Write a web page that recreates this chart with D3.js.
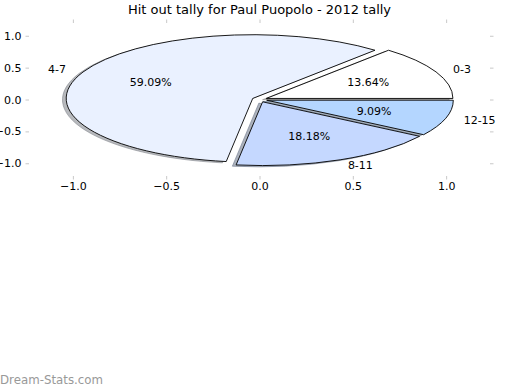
<!doctype html>
<html>
<head>
<meta charset="UTF-8" />
<title>Hit out tally</title>
<script src="https://d3js.org/d3.v7.min.js"></script>
<style>
  body { margin: 0; background: #fff; }
  text { font-family: "DejaVu Sans", sans-serif; }
</style>
</head>
<body>
<div id="container"></div>
<script>
// data
const labels = ["0-3", "4-7", "8-11", "12-15"];
const counts = [3, 13, 4, 2];
const colors = ["#ffffff", "#eaf1ff", "#c5d8ff", "#b4d6ff"];
const explode = [0.04, 0.04, 0.04, 0.04];
const ticks = [-1.0, -0.5, 0.0, 0.5, 1.0];
const title = "Hit out tally for Paul Puopolo - 2012 tally";

const width = 520, height = 390;

const svg = d3.select("#container").append("svg")
    .attr("width", width)
    .attr("height", height);

// axes box (pie is squashed, aspect not equal)
const x = d3.scaleLinear().domain([-1.235, 1.235]).range([29, 490]);
const y = d3.scaleLinear().domain([-1.2, 1.2]).range([176, 23]);

const sx = x(1) - x(0), sy = y(0) - y(1);

// matplotlib style: start at 3 o'clock, counterclockwise
const pie = d3.pie().sort(null)
    .startAngle(Math.PI / 2)
    .endAngle(Math.PI / 2 - 2 * Math.PI);
const arcs = pie(counts);
const arc = d3.arc().innerRadius(0).outerRadius(1);
const total = d3.sum(counts);

arcs.forEach((d, i) => {
  const theta = Math.PI / 2 - (d.startAngle + d.endAngle) / 2;
  d.theta = theta;
  d.ox = explode[i] * Math.cos(theta);
  d.oy = explode[i] * Math.sin(theta);
});

// shadows first (below the wedges)
svg.append("g").selectAll("path")
  .data(arcs)
  .join("path")
    .attr("transform", d => `translate(${x(d.ox - 0.02)},${y(d.oy - 0.02)}) scale(${sx},${sy})`)
    .attr("d", arc)
    .attr("fill", (d, i) => d3.rgb(colors[i]).darker(1.8))
    .attr("fill-opacity", 0.55)
    .attr("stroke", (d, i) => d3.rgb(colors[i]).darker(1.8))
    .attr("stroke-opacity", 0.55)
    .attr("stroke-width", 1)
    .attr("vector-effect", "non-scaling-stroke");

svg.append("g").selectAll("path")
  .data(arcs)
  .join("path")
    .attr("transform", d => `translate(${x(d.ox)},${y(d.oy)}) scale(${sx},${sy})`)
    .attr("d", arc)
    .attr("fill", (d, i) => colors[i])
    .attr("stroke", "#000")
    .attr("stroke-width", 0.9)
    .attr("stroke-linejoin", "round")
    .attr("vector-effect", "non-scaling-stroke");

// category labels at 1.1 radius
svg.append("g").selectAll("text")
  .data(arcs)
  .join("text")
    .attr("x", d => x(1.1 * Math.cos(d.theta) + d.ox))
    .attr("y", d => y(1.1 * Math.sin(d.theta) + d.oy))
    .attr("dy", "0.35em")
    .attr("text-anchor", d => Math.cos(d.theta) > 0 ? "start" : "end")
    .attr("font-size", 11)
    .text((d, i) => labels[i]);

// percentages at 0.6 radius
svg.append("g").selectAll("text")
  .data(arcs)
  .join("text")
    .attr("x", d => x(0.6 * Math.cos(d.theta) + d.ox))
    .attr("y", d => y(0.6 * Math.sin(d.theta) + d.oy))
    .attr("dy", "0.35em")
    .attr("text-anchor", "middle")
    .attr("font-size", 11)
    .text(d => (100 * d.value / total).toFixed(2) + "%");

// axes: gray tick marks all round, labels left and bottom
const fmt = d => d3.format(".1f")(d).replace("-", "\u2212");
function styleAxis(g, showLabels) {
  g.select(".domain").remove();
  g.selectAll(".tick line").attr("stroke", "#c8c8c8");
  g.selectAll(".tick text").attr("fill", "#000").attr("font-size", 11)
    .attr("font-family", "DejaVu Sans, sans-serif");
  if (!showLabels) g.selectAll(".tick text").remove();
}
svg.append("g").attr("transform", `translate(0,${y.range()[0]})`)
  .call(d3.axisBottom(x).tickValues(ticks).tickFormat(fmt).tickSize(3.5).tickPadding(2.5))
  .call(g => styleAxis(g, true));
svg.append("g").attr("transform", `translate(0,${y.range()[1]})`)
  .call(d3.axisTop(x).tickValues(ticks).tickSize(3.5))
  .call(g => styleAxis(g, false));
svg.append("g").attr("transform", `translate(${x.range()[0]},0)`)
  .call(d3.axisLeft(y).tickValues(ticks).tickFormat(fmt).tickSize(3.5).tickPadding(4))
  .call(g => styleAxis(g, true));
svg.append("g").attr("transform", `translate(${x.range()[1]},0)`)
  .call(d3.axisRight(y).tickValues(ticks).tickSize(3.5))
  .call(g => styleAxis(g, false));

// title
svg.append("text")
    .attr("x", (x.range()[0] + x.range()[1]) / 2)
    .attr("y", 14)
    .attr("text-anchor", "middle")
    .attr("font-size", 13)
    .text(title);

// watermark
svg.append("text")
    .attr("x", 0)
    .attr("y", 384)
    .attr("font-size", 11.8)
    .attr("fill", "#999")
    .text("Dream-Stats.com");
</script>
</body>
</html>
